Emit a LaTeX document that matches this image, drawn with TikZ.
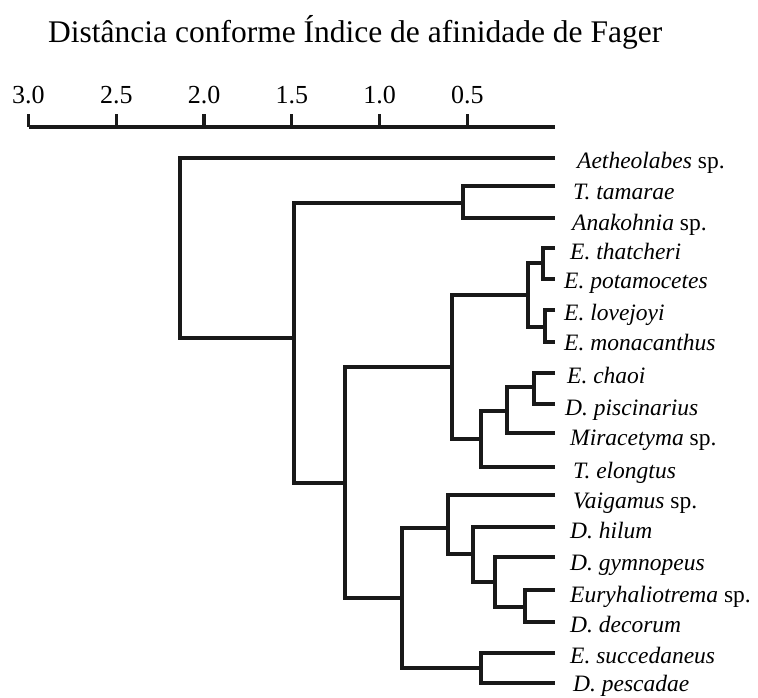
\documentclass[tikz,border=0pt]{standalone}
\usepackage{fontspec}
\setmainfont{Liberation Serif}
\begin{document}
\begin{tikzpicture}[x=1pt,y=-1pt,
  br/.style={line width=3.3pt, line join=miter, color=black!90},
  lbl/.style={anchor=base west, inner sep=0pt, font=\fontsize{23.5}{24}\selectfont},
  ticklbl/.style={anchor=base, inner sep=0pt, font=\fontsize{26}{27}\selectfont},
  titlestyle/.style={anchor=base west, inner sep=0pt, font=\fontsize{31.5}{32}\selectfont}]
\useasboundingbox (0,0) rectangle (758,698);

% title
\node[titlestyle] (title) at (48,43) {Distância conforme Índice de afinidade de Fager};

% axis
\coordinate (ax0) at (28.5,127);
\coordinate (ax1) at (555,127);
\draw[br] (ax0) -- (ax1);
\foreach \d/\nm in {3.0/a,2.5/b,2.0/c,1.5/d,1.0/e,0.5/f}{
  \coordinate (tk\nm) at ({555-175.5*\d},127);
  \coordinate (tt\nm) at ({555-175.5*\d},114);
  \draw[br] (tk\nm) -- (tt\nm);
  \node[ticklbl] (tl\nm) at ({555-175.5*\d},104) {\d};
}

% leaves
\foreach \nm/\y in {Aeth/158,Ttam/186,Anak/218,Eth/248,Epot/279,Elov/310,Emon/342,Echa/373,Dpis/404,Mir/433,Tel/467,Vai/495,Dhil/527,Dgym/557,Eury/590,Ddec/622,Esuc/653,Dpes/683}{
  \coordinate (\nm) at (555,\y);
}

% internal nodes
\coordinate (R)  at (180,248);
\coordinate (B)  at (294,338);
\coordinate (T)  at (463,203);
\coordinate (D)  at (345,483);
\coordinate (C)  at (452,367);
\coordinate (E)  at (528,295);
\coordinate (E1) at (543,263);
\coordinate (E2) at (545,327);
\coordinate (H)  at (481,439);
\coordinate (H1) at (507,411);
\coordinate (H2) at (534,387);
\coordinate (G)  at (402,598);
\coordinate (V)  at (448,528);
\coordinate (V1) at (473,554);
\coordinate (V2) at (495,582);
\coordinate (V3) at (525,607);
\coordinate (S)  at (481,668);

% dendrogram
\draw[br] (Aeth) -| (R) |- (B);
\draw[br] (T) -| (B) |- (D);
\draw[br] (Ttam) -| (T) |- (Anak);
\draw[br] (C) -| (D) |- (G);
\draw[br] (E) -| (C) |- (H);
\draw[br] (E1) -| (E) |- (E2);
\draw[br] (Eth) -| (E1) |- (Epot);
\draw[br] (Elov) -| (E2) |- (Emon);
\draw[br] (H1) -| (H) |- (Tel);
\draw[br] (H2) -| (H1) |- (Mir);
\draw[br] (Echa) -| (H2) |- (Dpis);
\draw[br] (V) -| (G) |- (S);
\draw[br] (Vai) -| (V) |- (V1);
\draw[br] (Dhil) -| (V1) |- (V2);
\draw[br] (Dgym) -| (V2) |- (V3);
\draw[br] (Eury) -| (V3) |- (Ddec);
\draw[br] (Esuc) -| (S) |- (Dpes);

% labels
\node[lbl] (lAeth) at (577,168) {\textit{Aetheolabes} sp.};
\node[lbl] (lTtam) at (573,200) {\textit{T. tamarae}};
\node[lbl] (lAnak) at (572,230) {\textit{Anakohnia} sp.};
\node[lbl] (lEth)  at (570,259) {\textit{E. thatcheri}};
\node[lbl] (lEpot) at (564,288) {\textit{E. potamocetes}};
\node[lbl] (lElov) at (564,320) {\textit{E. lovejoyi}};
\node[lbl] (lEmon) at (564,350) {\textit{E. monacanthus}};
\node[lbl] (lEcha) at (567,383) {\textit{E. chaoi}};
\node[lbl] (lDpis) at (565,415) {\textit{D. piscinarius}};
\node[lbl] (lMir)  at (570,445) {\textit{Miracetyma} sp.};
\node[lbl] (lTel)  at (573,478) {\textit{T. elongtus}};
\node[lbl] (lVai)  at (573,508) {\textit{Vaigamus} sp.};
\node[lbl] (lDhil) at (570,538) {\textit{D. hilum}};
\node[lbl] (lDgym) at (570,570) {\textit{D. gymnopeus}};
\node[lbl] (lEury) at (570,602) {\textit{Euryhaliotrema} sp.};
\node[lbl] (lDdec) at (570,632) {\textit{D. decorum}};
\node[lbl] (lEsuc) at (570,663) {\textit{E. succedaneus}};
\node[lbl] (lDpes) at (573,691) {\textit{D. pescadae}};
\end{tikzpicture}
\end{document}
